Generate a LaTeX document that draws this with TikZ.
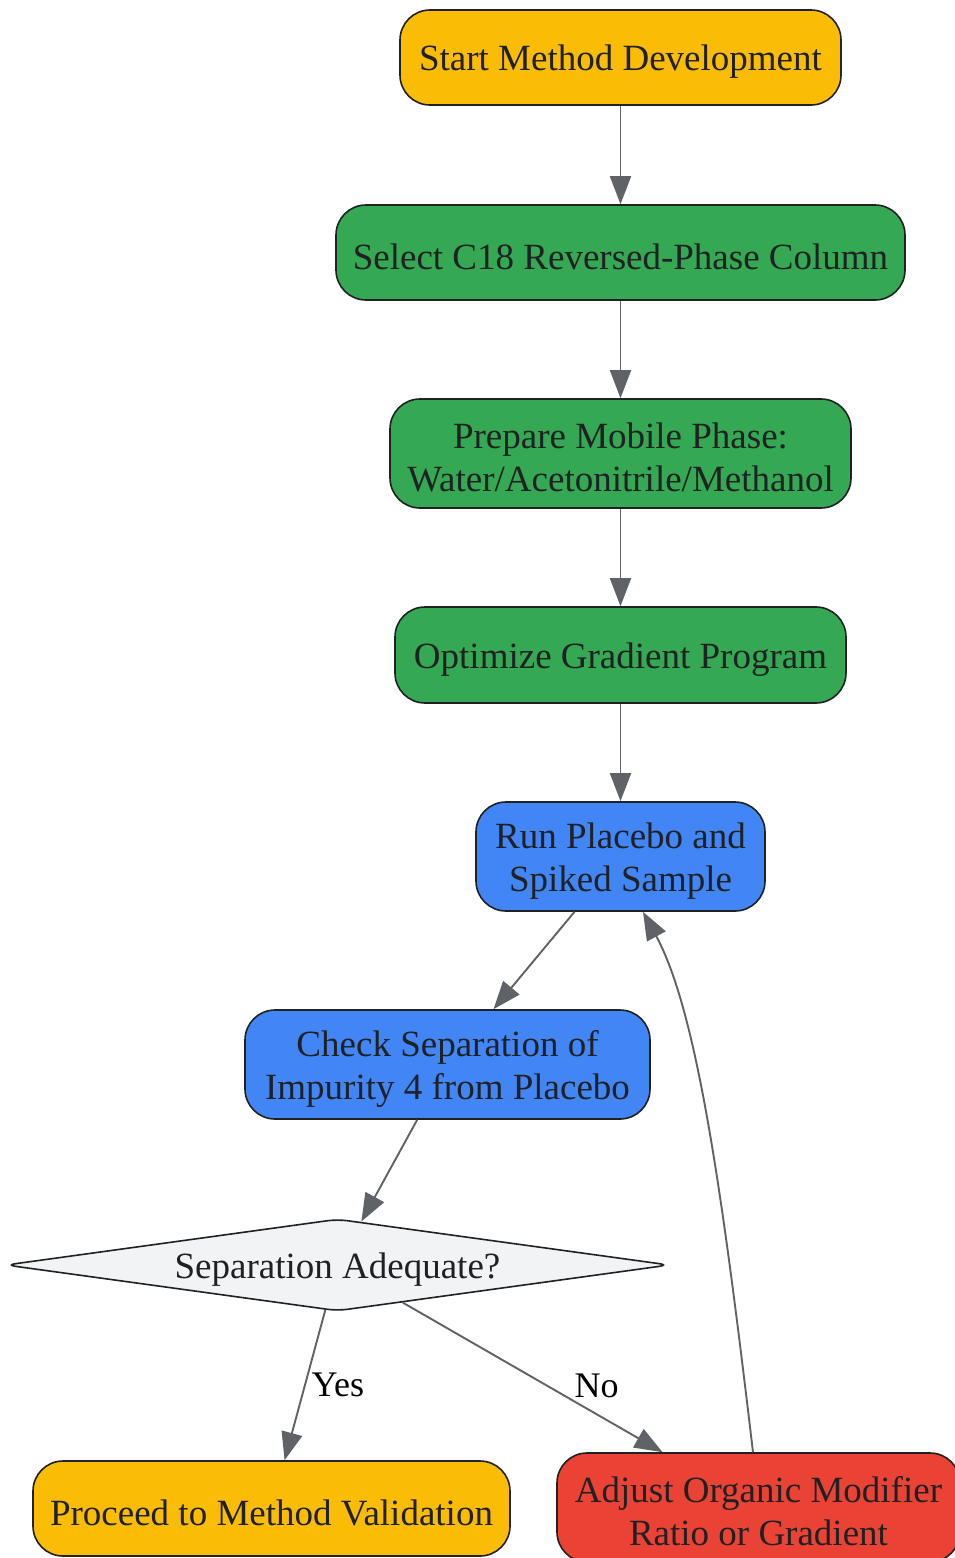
\documentclass[tikz,border=0pt]{standalone}
\usepackage{fontspec}
\setmainfont{Liberation Serif}
\usetikzlibrary{shapes.geometric,arrows.meta}
\definecolor{startyellow}{HTML}{FBBC05}
\definecolor{prepgreen}{HTML}{34A853}
\definecolor{runblue}{HTML}{4285F4}
\definecolor{adjred}{HTML}{EA4335}
\definecolor{decgray}{HTML}{F1F3F4}
\definecolor{edgegray}{HTML}{5F6368}
\definecolor{inkdark}{HTML}{202124}
\newcommand{\lineup}{\rule{0pt}{34pt}}
\begin{document}
\begin{tikzpicture}[x=1pt,y=-1pt,
	box/.style={draw=inkdark,line width=1.6pt,rounded corners=30pt,align=center,
		text=inkdark,inner sep=0pt,font=\fontsize{37}{43}\selectfont},
	decision/.style={draw=inkdark,line width=1.6pt,diamond,shape aspect=7.3,
		rounded corners=10pt,fill=decgray,text=inkdark,inner sep=0pt,
		font=\fontsize{37}{43}\selectfont},
	flow/.style={draw=edgegray,line width=1.9pt,-{Triangle[length=28pt,width=21pt]}},
	edgelabel/.style={text=black,inner sep=0pt,font=\fontsize{36}{43}\selectfont}]
			\useasboundingbox (0,0) rectangle (954,1558);
			\node [box,fill=startyellow,minimum width=441pt,minimum height=95pt] (start) at (620.5,57.5) {\lineup Start Method Development};
			\node [box,fill=prepgreen,minimum width=569pt,minimum height=95pt] (column) at (620.5,252.5) {\lineup Select C18 Reversed-Phase Column};
			\node [box,fill=prepgreen,minimum width=461pt,minimum height=109pt] (mobile) at (620.5,453.5) {\lineup Prepare Mobile Phase:\\Water/Acetonitrile/Methanol};
			\node [box,fill=prepgreen,minimum width=451pt,minimum height=96pt] (gradient) at (620.5,655) {\lineup Optimize Gradient Program};
			\node [box,fill=runblue,minimum width=289pt,minimum height=109pt] (run) at (620.5,856.5) {\lineup Run Placebo and\\Spiked Sample};
			\node [box,fill=runblue,minimum width=405pt,minimum height=109pt] (checksep) at (447.5,1064.5) {\lineup Check Separation of\\Impurity 4 from Placebo};
			\node [decision,minimum width=664pt,minimum height=92pt] (adequate) at (337.5,1265) {\lineup Separation Adequate?};
			\node [box,fill=startyellow,minimum width=477pt,minimum height=95pt] (validate) at (271.5,1508.5) {\lineup Proceed to Method Validation};
			\node [box,fill=adjred,minimum width=403pt,minimum height=109pt] (adjust) at (758.5,1507.5) {\lineup Adjust Organic Modifier\\Ratio or Gradient};
			\draw [flow] (start) -- (column);
			\draw [flow] (column) -- (mobile);
			\draw [flow] (mobile) -- (gradient);
			\draw [flow] (gradient) -- (run);
			\draw [flow] (run) -- (checksep);
			\draw [flow] (checksep) -- (adequate);
			\draw [flow] (adequate) -- node [edgelabel,midway,xshift=33pt] {Yes} (validate);
			\draw [flow] (adequate) -- node [edgelabel,midway,xshift=64pt,yshift=-8pt] {No} (adjust);
			\draw [flow] ([xshift=-5.5pt]adjust.north) .. controls (723.5,1203) and (698,1013) .. ([xshift=22.5pt]run.south);
		\end{tikzpicture}
\end{document}
